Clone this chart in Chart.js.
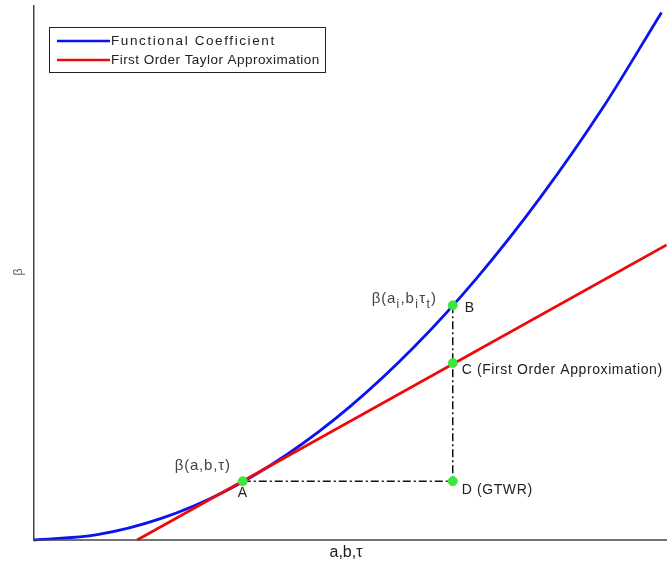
<!DOCTYPE html>
<html>
<head>
<meta charset="utf-8">
<script src="https://cdn.jsdelivr.net/npm/chart.js@4"></script>
<style>
  body { margin: 0; background: #fff; }
  #wrap { width: 667px; height: 567px; }
</style>
</head>
<body>
<div id="wrap"><canvas id="c" width="667" height="567"></canvas></div>
<script>
// values (x and y in 0..1 of the axes)
const curveX = [0, 0.1, 0.2, 0.3, 0.4, 0.5, 0.6, 0.7, 0.8, 0.9, 0.992];
const curveY = [0, 0.01, 0.04, 0.09, 0.16, 0.25, 0.36, 0.49, 0.64, 0.81, 0.987];
const tangentX = [0.163, 1.0];
const tangentY = [0, 0.552];
const pointNames = ['A', 'B', 'C', 'D'];
const pointX = [0.330, 0.662, 0.662, 0.662];
const pointY = [0.110, 0.439, 0.331, 0.110];
const seriesNames = ['Functional Coefficient', 'First Order Taylor Approximation'];

const zip = (xs, ys) => xs.map((x, i) => ({ x: x, y: ys[i] }));
const pt = name => {
  const i = pointNames.indexOf(name);
  return { x: pointX[i], y: pointY[i] };
};

const FONT = '"Liberation Sans", Arial, sans-serif';

// text with subscripts: parts = [[text, isSub], ...]
function drawParts(ctx, parts, x, y, size) {
  let cx = x;
  ctx.letterSpacing = '0.8px';
  parts.forEach(([t, sub]) => {
    ctx.font = (sub ? size - 3 : size) + 'px ' + FONT;
    ctx.fillText(t, cx, sub ? y + 5 : y);
    cx += ctx.measureText(t).width + 0.5;
  });
  ctx.letterSpacing = '0px';
}

const annotations = {
  id: 'annotations',
  afterDatasetsDraw(chart) {
    const ctx = chart.ctx;
    const xs = chart.scales.x, ys = chart.scales.y;
    const px = v => xs.getPixelForValue(v);
    const py = v => ys.getPixelForValue(v);
    ctx.save();

    // x axis line runs to the right edge of the figure
    ctx.strokeStyle = '#444';
    ctx.lineWidth = 1.5;
    ctx.beginPath();
    ctx.moveTo(chart.chartArea.left, chart.chartArea.bottom);
    ctx.lineTo(chart.width, chart.chartArea.bottom);
    ctx.stroke();

    ctx.fillStyle = '#222';
    ctx.textBaseline = 'middle';
    ctx.textAlign = 'left';

    const A = pt('A'), B = pt('B'), C = pt('C'), D = pt('D');
    ctx.fillStyle = '#444';
    drawParts(ctx, [['\u03b2(a,b,\u03c4)', false]], px(A.x) - 68, py(A.y) - 15, 15);
    drawParts(ctx, [['\u03b2(a', false], ['i', true], [',b', false], ['i', true], ['\u03c4', false], ['t', true], [')', false]],
      px(B.x) - 81, py(B.y) - 6, 15);
    ctx.fillStyle = '#222';
    ctx.font = '14px ' + FONT;
    ctx.fillText('A', px(A.x) - 5, py(A.y) + 12);
    ctx.letterSpacing = '0.6px';
    ctx.fillText('B', px(B.x) + 12, py(B.y) + 3);
    ctx.fillText('C (First Order Approximation)', px(C.x) + 9, py(C.y) + 7);
    ctx.fillText('D (GTWR)', px(D.x) + 9, py(D.y) + 9);
    ctx.letterSpacing = '0px';

    // axis labels
    ctx.textAlign = 'center';
    ctx.font = '16px ' + FONT;
    ctx.fillText('a,b,\u03c4', 346, 553);
    ctx.save();
    ctx.translate(18, 272);
    ctx.rotate(-Math.PI / 2);
    ctx.font = '13px ' + FONT;
    ctx.fillStyle = '#666';
    ctx.fillText('\u03b2', 0, 0);
    ctx.restore();

    // legend box
    ctx.strokeStyle = '#222';
    ctx.lineWidth = 1;
    ctx.strokeRect(49.5, 27.5, 276, 45);
    const colors = ['#0a14ee', '#ee0a0a'];
    const spacing = ['1.6px', '0.45px'];
    seriesNames.forEach((name, i) => {
      const y = 41 + i * 19;
      ctx.strokeStyle = colors[i];
      ctx.lineWidth = 2.5;
      ctx.beginPath();
      ctx.moveTo(57, y);
      ctx.lineTo(110, y);
      ctx.stroke();
      ctx.textAlign = 'left';
      ctx.font = '13.5px ' + FONT;
      ctx.letterSpacing = spacing[i];
      ctx.fillStyle = '#222';
      ctx.fillText(name, 111, y);
    });
    ctx.restore();
  }
};

new Chart(document.getElementById('c'), {
  type: 'scatter',
  data: {
    datasets: [
      {
        label: 'dash AD',
        data: [pt('A'), pt('D')],
        showLine: true,
        borderColor: '#111',
        borderWidth: 1.5,
        borderDash: [8, 3, 2, 3],
        pointRadius: 0,
        order: 3
      },
      {
        label: 'dash BD',
        data: [pt('B'), pt('D')],
        showLine: true,
        borderColor: '#111',
        borderWidth: 1.5,
        borderDash: [8, 3, 2, 3],
        pointRadius: 0,
        order: 3
      },
      {
        label: seriesNames[0],
        data: zip(curveX, curveY),
        showLine: true,
        borderColor: '#0a14ee',
        borderWidth: 2.8,
        cubicInterpolationMode: 'monotone',
        pointRadius: 0,
        order: 2
      },
      {
        label: seriesNames[1],
        data: zip(tangentX, tangentY),
        showLine: true,
        borderColor: '#ee0a0a',
        borderWidth: 2.8,
        pointRadius: 0,
        order: 1
      },
      {
        label: 'points',
        data: zip(pointX, pointY),
        showLine: false,
        backgroundColor: '#3de83d',
        borderColor: '#3de83d',
        pointRadius: 4.5,
        order: 0
      }
    ]
  },
  options: {
    responsive: false,
    animation: false,
    clip: false,
    layout: { padding: { left: 34, top: 5, right: 0, bottom: 27 } },
    plugins: { legend: { display: false }, tooltip: { enabled: false } },
    scales: {
      x: {
        type: 'linear', min: 0, max: 0.992,
        grid: { display: false },
        ticks: { display: false },
        border: { display: false },
        afterFit: s => { s.height = 0; s.paddingLeft = 0; s.paddingRight = 0; }
      },
      y: {
        type: 'linear', min: 0, max: 1,
        grid: { display: false },
        ticks: { display: false },
        border: { display: true, color: '#444', width: 1.5 },
        afterFit: s => { s.width = 0; s.paddingTop = 0; s.paddingBottom = 0; }
      }
    }
  },
  plugins: [annotations]
});
</script>
</body>
</html>
